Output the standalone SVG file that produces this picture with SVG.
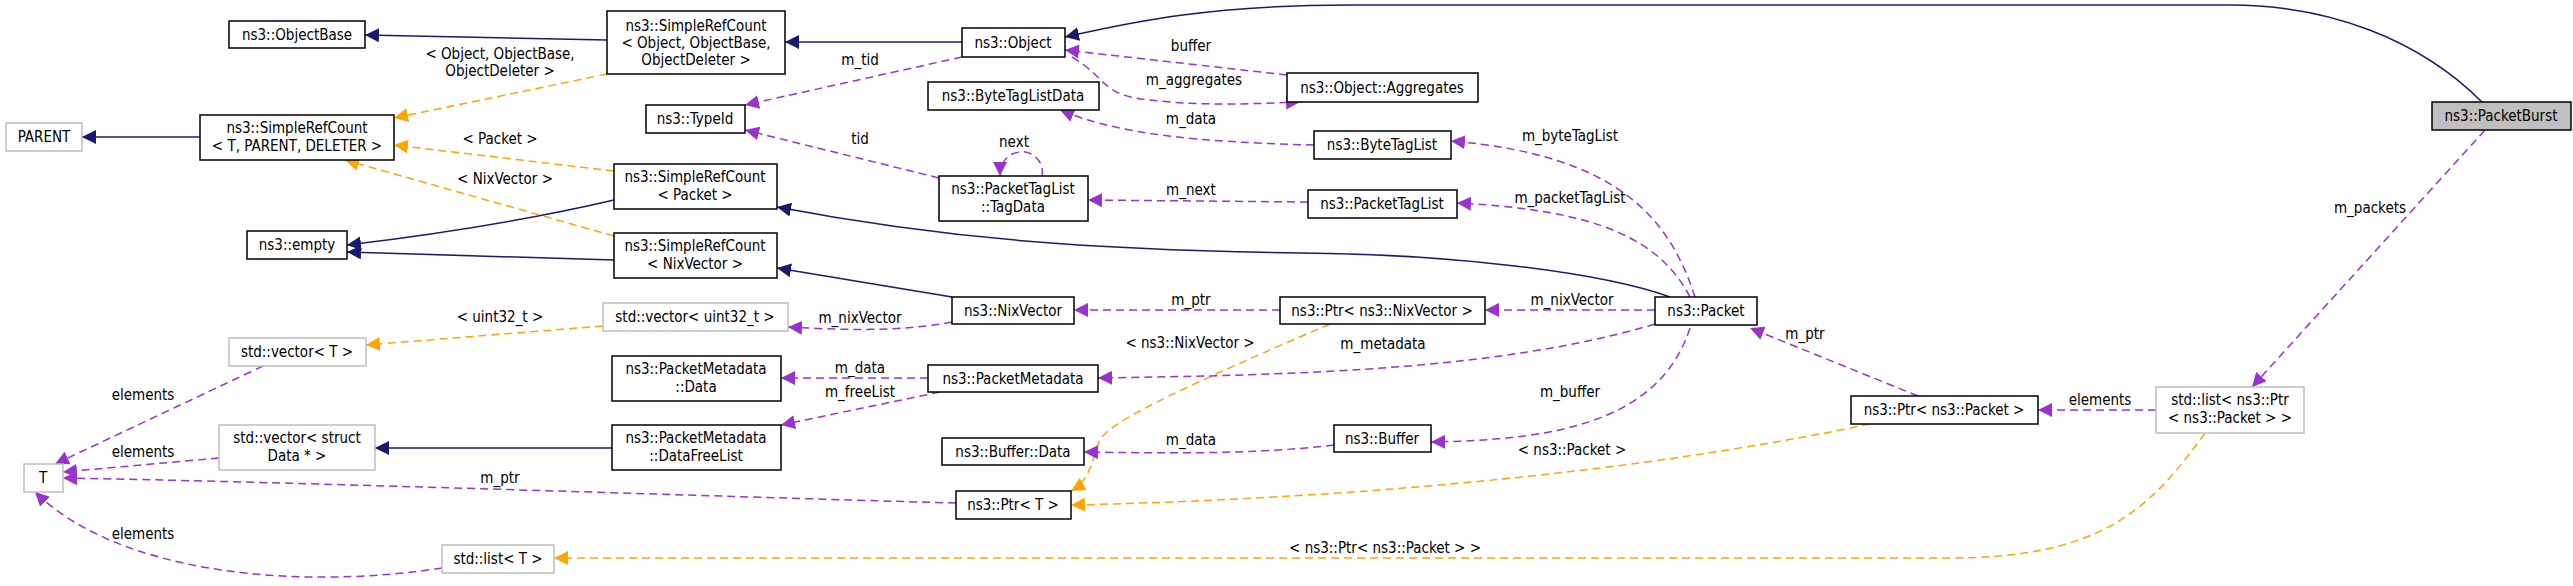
<svg xmlns="http://www.w3.org/2000/svg" width="2573" height="586" viewBox="0 0 2573 586">
<style>
text{font-family:"DejaVu Sans Condensed","DejaVu Sans",sans-serif;font-size:15px;fill:#000;text-anchor:middle}
.n{fill:#fff;stroke:#000;stroke-width:1.5}
.g{fill:#fff;stroke:#bfbfbf;stroke-width:1.5}
.sel{fill:#bfbfbf;stroke:#000;stroke-width:1.5}
.b{fill:none;stroke:#191970;stroke-width:1.5;marker-end:url(#ab)}
.o{fill:none;stroke:#ffa500;stroke-width:1.5;stroke-dasharray:8,5;marker-end:url(#ao)}
.p{fill:none;stroke:#9a32cd;stroke-width:1.5;stroke-dasharray:8,5;marker-end:url(#ap)}
</style>
<defs>
<marker id="ab" viewBox="0 0 10 10" refX="10" refY="5" markerWidth="14" markerHeight="14" markerUnits="userSpaceOnUse" orient="auto"><path d="M0,0L10,5L0,10z" fill="#191970"/></marker>
<marker id="ao" viewBox="0 0 10 10" refX="10" refY="5" markerWidth="14" markerHeight="14" markerUnits="userSpaceOnUse" orient="auto"><path d="M0,0L10,5L0,10z" fill="#ffa500"/></marker>
<marker id="ap" viewBox="0 0 10 10" refX="10" refY="5" markerWidth="14" markerHeight="14" markerUnits="userSpaceOnUse" orient="auto"><path d="M0,0L10,5L0,10z" fill="#9a32cd"/></marker>
</defs>
<rect width="2573" height="586" fill="#fff"/>
<g id="edges">
<path class="b" d="M607,40 L365,35"/>
<path class="b" d="M962,42 L785,42"/>
<path class="b" d="M2482,102 C2420,40 2330,5 2230,5 L1350,5 C1200,5 1120,25 1065,37"/>
<path class="b" d="M200,137 L82,137"/>
<path class="b" d="M614,200 C520,222 430,235 347,245"/>
<path class="b" d="M614,260 L347,252"/>
<path class="b" d="M1670,297 C1600,272 1450,254 1300,253 C1100,250 950,240 777,207"/>
<path class="b" d="M952,297 L777,268"/>
<path class="b" d="M612,448 L375,448"/>
<path class="o" d="M607,74 L394,118"/>
<path class="o" d="M614,171 L394,145"/>
<path class="o" d="M614,236 L345,160"/>
<path class="o" d="M603,326 L366,345"/>
<path class="o" d="M2205,433 C2150,510 2100,558 1950,558 L554,558"/>
<path class="o" d="M1330,324 C1200,380 1110,420 1100,440 C1090,465 1090,480 1071,491"/>
<path class="o" d="M1870,424 C1600,480 1300,500 1071,505"/>
<path class="p" d="M1287,75 L1065,50"/>
<path class="p" d="M1072,57 C1110,80 1100,95 1150,100 C1200,106 1250,104 1300,102"/>
<path class="p" d="M962,57 L745,105"/>
<path class="p" d="M939,178 L745,130"/>
<path class="p" d="M1042,176 C1045,160 1030,150 1020,152 C1008,153 1000,162 1000,176"/>
<path class="p" d="M1314,145 C1200,142 1120,135 1060,110"/>
<path class="p" d="M1308,202 L1088,200"/>
<path class="p" d="M1695,297 C1670,220 1620,155 1451,141"/>
<path class="p" d="M1690,297 C1660,240 1600,210 1457,203"/>
<path class="p" d="M1655,310 L1485,310"/>
<path class="p" d="M1280,310 L1074,310"/>
<path class="p" d="M952,322 C900,332 840,330 788,327"/>
<path class="p" d="M1655,324 C1500,370 1300,375 1098,378"/>
<path class="p" d="M928,378 L781,378"/>
<path class="p" d="M940,392 L781,425"/>
<path class="p" d="M1690,328 C1660,420 1560,440 1431,442"/>
<path class="p" d="M1334,445 C1250,455 1160,453 1084,452"/>
<path class="p" d="M956,503 C700,496 300,482 63,478"/>
<path class="p" d="M263,366 L55,464"/>
<path class="p" d="M219,458 L63,472"/>
<path class="p" d="M442,568 C300,590 120,575 35,492"/>
<path class="p" d="M1918,396 L1750,328"/>
<path class="p" d="M2156,410 L2038,410"/>
<path class="p" d="M2485,130 L2252,387"/>
</g>
<g id="labels">
<text x="500" y="59">&lt; Object, ObjectBase,</text>
<text x="500" y="76">ObjectDeleter &gt;</text>
<text x="500" y="144">&lt; Packet &gt;</text>
<text x="505" y="184">&lt; NixVector &gt;</text>
<text x="500" y="322">&lt; uint32_t &gt;</text>
<text x="143" y="400">elements</text>
<text x="143" y="457">elements</text>
<text x="500" y="483">m_ptr</text>
<text x="143" y="539">elements</text>
<text x="1191" y="51">buffer</text>
<text x="1194" y="85">m_aggregates</text>
<text x="860" y="65">m_tid</text>
<text x="1191" y="124">m_data</text>
<text x="860" y="144">tid</text>
<text x="1014" y="147">next</text>
<text x="1191" y="195">m_next</text>
<text x="1570" y="141">m_byteTagList</text>
<text x="1570" y="203">m_packetTagList</text>
<text x="1191" y="305">m_ptr</text>
<text x="1572" y="305">m_nixVector</text>
<text x="860" y="323">m_nixVector</text>
<text x="1190" y="348">&lt; ns3::NixVector &gt;</text>
<text x="1383" y="349">m_metadata</text>
<text x="860" y="373">m_data</text>
<text x="860" y="397">m_freeList</text>
<text x="1570" y="397">m_buffer</text>
<text x="1191" y="445">m_data</text>
<text x="1572" y="455">&lt; ns3::Packet &gt;</text>
<text x="1385" y="553">&lt; ns3::Ptr&lt; ns3::Packet &gt; &gt;</text>
<text x="2370" y="213">m_packets</text>
<text x="1805" y="339">m_ptr</text>
<text x="2100" y="405">elements</text>
</g>
<g id="ObjectBase"><rect class="n" x="229" y="21" width="136" height="27"/><text x="297" y="40">ns3::ObjectBase</text></g>
<g id="SRCObject"><rect class="n" x="607" y="11" width="178" height="63"/><text x="696" y="31">ns3::SimpleRefCount</text><text x="696" y="48">&lt; Object, ObjectBase,</text><text x="696" y="65">ObjectDeleter &gt;</text></g>
<g id="PARENT"><rect class="g" x="6" y="123" width="76" height="28"/><text x="44" y="142">PARENT</text></g>
<g id="SRCT"><rect class="n" x="200" y="115" width="194" height="45"/><text x="297" y="133">ns3::SimpleRefCount</text><text x="297" y="151">&lt; T, PARENT, DELETER &gt;</text></g>
<g id="TypeId"><rect class="n" x="646" y="105" width="99" height="28"/><text x="695" y="124">ns3::TypeId</text></g>
<g id="SRCPacket"><rect class="n" x="614" y="164" width="163" height="45"/><text x="695" y="182">ns3::SimpleRefCount</text><text x="695" y="200">&lt; Packet &gt;</text></g>
<g id="empty"><rect class="n" x="247" y="231" width="100" height="28"/><text x="297" y="250">ns3::empty</text></g>
<g id="SRCNix"><rect class="n" x="614" y="233" width="163" height="45"/><text x="695" y="251">ns3::SimpleRefCount</text><text x="695" y="269">&lt; NixVector &gt;</text></g>
<g id="vecU32"><rect class="g" x="603" y="303" width="185" height="28"/><text x="695" y="322">std::vector&lt; uint32_t &gt;</text></g>
<g id="vecT"><rect class="g" x="229" y="338" width="137" height="28"/><text x="297" y="357">std::vector&lt; T &gt;</text></g>
<g id="PMData"><rect class="n" x="612" y="356" width="169" height="45"/><text x="696" y="374">ns3::PacketMetadata</text><text x="696" y="392">::Data</text></g>
<g id="vecData"><rect class="g" x="219" y="425" width="156" height="45"/><text x="297" y="443">std::vector&lt; struct</text><text x="297" y="461">Data * &gt;</text></g>
<g id="PMFree"><rect class="n" x="612" y="425" width="169" height="45"/><text x="696" y="443">ns3::PacketMetadata</text><text x="696" y="461">::DataFreeList</text></g>
<g id="T"><rect class="g" x="24" y="464" width="39" height="28"/><text x="43" y="483">T</text></g>
<g id="listT"><rect class="g" x="442" y="545" width="112" height="28"/><text x="498" y="564">std::list&lt; T &gt;</text></g>
<g id="Object"><rect class="n" x="962" y="28" width="103" height="29"/><text x="1013" y="48">ns3::Object</text></g>
<g id="Aggregates"><rect class="n" x="1287" y="73" width="191" height="29"/><text x="1382" y="93">ns3::Object::Aggregates</text></g>
<g id="BTLData"><rect class="n" x="928" y="82" width="171" height="28"/><text x="1013" y="101">ns3::ByteTagListData</text></g>
<g id="BTL"><rect class="n" x="1314" y="131" width="137" height="28"/><text x="1382" y="150">ns3::ByteTagList</text></g>
<g id="TagData"><rect class="n" x="939" y="176" width="149" height="45"/><text x="1013" y="194">ns3::PacketTagList</text><text x="1013" y="212">::TagData</text></g>
<g id="PTL"><rect class="n" x="1308" y="190" width="149" height="28"/><text x="1382" y="209">ns3::PacketTagList</text></g>
<g id="NixVector"><rect class="n" x="952" y="297" width="122" height="27"/><text x="1013" y="316">ns3::NixVector</text></g>
<g id="PtrNix"><rect class="n" x="1280" y="297" width="205" height="27"/><text x="1382" y="316">ns3::Ptr&lt; ns3::NixVector &gt;</text></g>
<g id="Packet"><rect class="n" x="1655" y="297" width="102" height="28"/><text x="1706" y="316">ns3::Packet</text></g>
<g id="PM"><rect class="n" x="928" y="365" width="170" height="27"/><text x="1013" y="384">ns3::PacketMetadata</text></g>
<g id="Buffer"><rect class="n" x="1334" y="425" width="97" height="27"/><text x="1382" y="444">ns3::Buffer</text></g>
<g id="BufferData"><rect class="n" x="942" y="438" width="142" height="27"/><text x="1013" y="457">ns3::Buffer::Data</text></g>
<g id="PtrT"><rect class="n" x="956" y="491" width="115" height="28"/><text x="1013" y="510">ns3::Ptr&lt; T &gt;</text></g>
<g id="PtrPacket"><rect class="n" x="1851" y="396" width="187" height="28"/><text x="1944" y="415">ns3::Ptr&lt; ns3::Packet &gt;</text></g>
<g id="listPtr"><rect class="g" x="2156" y="387" width="148" height="46"/><text x="2230" y="405">std::list&lt; ns3::Ptr</text><text x="2230" y="423">&lt; ns3::Packet &gt; &gt;</text></g>
<g id="PacketBurst"><rect class="sel" x="2432" y="102" width="139" height="28"/><text x="2501" y="121">ns3::PacketBurst</text></g>
</svg>
